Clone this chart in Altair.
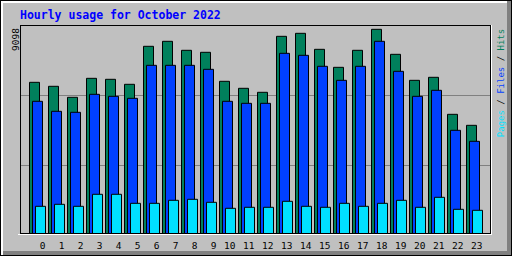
import altair as alt
import pandas as pd

# ---- data ----
hours = list(range(24))
hits = [6742, 6565, 6076, 6920, 6876, 6654, 8343, 8565, 8165, 8076, 6787, 6476,
        6298, 8787, 8920, 8209, 7409, 8165, 9098, 7987, 6831, 6965, 5320, 4831]
files = [5898, 5454, 5409, 6209, 6120, 6031, 7498, 7498, 7498, 7320, 5898, 5809,
         5809, 8031, 7942, 7454, 6831, 7454, 8565, 7231, 6120, 6387, 4609, 4120]
pages = [1231, 1320, 1231, 1765, 1765, 1364, 1364, 1498, 1542, 1409, 1142, 1187,
         1187, 1453, 1231, 1187, 1364, 1231, 1364, 1498, 1187, 1631, 1098, 1053]
series_names = ["Hits", "Files", "Pages"]
series_colors = ["#00805C", "#0040FF", "#00E0FF"]
y_max_label = "9098"
title_text = "Hourly usage for October 2022"
grid_values = [3067, 6178]
y_top = 9290

W, H = 471, 209
STEP = 19.0
rows = []
for name, vals in zip(series_names, [hits, files, pages]):
    for h, v in zip(hours, vals):
        rows.append({"hour": h, "value": v, "series": name})
df = pd.DataFrame(rows)
dummy = pd.DataFrame({"k": [0]})

xscale = alt.Scale(domain=[-0.5, -0.5 + W / STEP], nice=False, zero=False)
yscale = alt.Scale(domain=[0, y_top], nice=False)

xaxis = alt.Axis(values=hours, labelOffset=15.5, labelAlign="right", ticks=False,
                 tickSize=0, domain=False, grid=False, labelPadding=14.5,
                 labelBaseline="alphabetic", labelFont="DejaVu Sans Mono",
                 labelFontSize=9.5, labelColor="black", title=None, format="d",
                 labelFlush=False, labelOverlap=False)
yaxis = alt.Axis(values=grid_values, grid=True, gridColor="#808080", gridWidth=1,
                 labels=False, ticks=False, domain=False, title=None)


def bars(name, color, off):
    return alt.Chart(df).transform_filter(alt.datum.series == name).transform_calculate(
        x0=alt.datum.hour + off / STEP, x1=alt.datum.hour + (off + 10) / STEP
    ).mark_rect(fill=color, stroke="black", strokeWidth=1).encode(
        x=alt.X("x0:Q", scale=xscale, axis=xaxis),
        x2="x1:Q",
        y=alt.Y("value:Q", scale=yscale, axis=yaxis),
        y2=alt.datum(0),
    )


def prect(x1, x2, y1, y2, color):
    # pixel rectangle relative to plot origin (20, 25)
    return alt.Chart(dummy).mark_rect(color=color).encode(
        x=alt.value(x1), x2=alt.value(x2), y=alt.value(y1), y2=alt.value(y2))


def ptext(txt, x, y, color, size, angle=0, bold=False, align="left", baseline="alphabetic"):
    kw = dict(text=txt, color=color, fontSize=size, font="DejaVu Sans Mono",
              align=align, baseline=baseline, angle=angle)
    if bold:
        kw["fontWeight"] = "bold"
    return alt.Chart(dummy).mark_text(**kw).encode(x=alt.value(x), y=alt.value(y))


layers = [
    bars("Hits", series_colors[0], 0),
    bars("Files", series_colors[1], 3),
    bars("Pages", series_colors[2], 6),
    # plot frame: black top/left/right/bottom, white shadow right/bottom
    prect(0, W, 0, 1, "black"),
    prect(0, 1, 0, H, "black"),
    prect(W - 1, W, 0, H, "black"),
    prect(0, W, H - 1, H, "black"),
    prect(W, W + 1, 0, H + 1, "white"),
    prect(-2, W + 1, H, H + 1, "white"),
    # outer bevel
    prect(-19, 488, -24, -22, "white"),
    prect(-19, -17, -24, 230, "white"),
    prect(487, 491, -24, 230, "#808080"),
    prect(-17, 491, 226, 230, "#808080"),
    prect(-20, 492, -25, -24, "black"),
    prect(-20, 492, 230, 231, "black"),
    prect(-20, -19, -25, 231, "black"),
    prect(491, 492, -25, 231, "black"),
    # texts
    ptext(title_text, 0, -6.5, "#0000FF", 11.5, bold=True),
    ptext(y_max_label, -0.7, 26, "black", 9.5, angle=270),
]

adv = 0.602 * 9
base_y = 112.2
legend_parts = [("Pages", 0, series_colors[2]), ("/", 6, "black"),
                ("Files", 8, series_colors[1]), ("/", 14, "black"),
                ("Hits", 16, series_colors[0])]
for txt, idx, col in legend_parts:
    layers.append(ptext(txt, 484, base_y - idx * adv, col, 9, angle=270))

chart = alt.layer(*layers).properties(
    width=W, height=H,
    autosize=alt.AutoSizeParams(type="none"),
    padding={"left": 20, "top": 25, "right": 21, "bottom": 22},
).configure(background="#C0C0C0").configure_view(stroke=None)

chart.save("out.html", embed_options={"renderer": "svg", "actions": False})
